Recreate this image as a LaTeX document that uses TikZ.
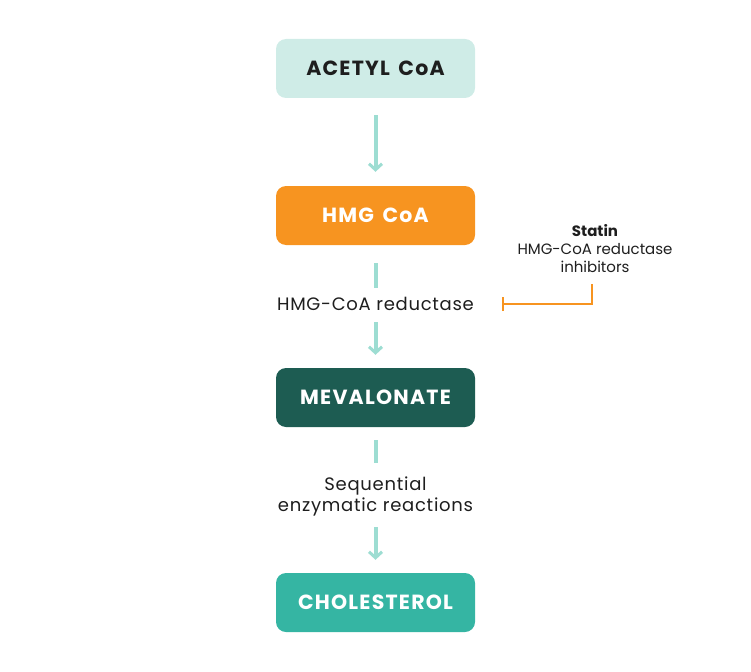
\documentclass[tikz,border=0pt]{standalone}
\usepackage{fontspec}
\setmainfont{Poppins}
\usetikzlibrary{arrows.meta}
\definecolor{acetylfill}{RGB}{207, 236, 231}
\definecolor{hmgorange}{RGB}{247, 148, 32}
\definecolor{mevgreen}{RGB}{29, 92, 82}
\definecolor{cholteal}{RGB}{53, 181, 163}
\definecolor{flowteal}{RGB}{157, 221, 210}
\definecolor{txtdark}{RGB}{30, 30, 30}

\tikzset{
    step box/.style={rounded corners=10pt, minimum width=199pt, minimum height=59pt,
        font=\fontsize{20.5}{24}\selectfont\bfseries\addfontfeature{LetterSpace=6}, inner sep=0pt},
    enzyme/.style={font=\fontsize{18}{21}\selectfont\addfontfeature{LetterSpace=4}, text=txtdark, align=center},
    flow/.style={flowteal, line width=4pt},
    flowarrow/.style={flow, -{Straight Barb[length=6pt, width=13pt, line width=3pt]}},
    inhibit/.style={hmgorange, line width=1.5pt, -{Bar[width=14pt, line width=1.5pt]}}
}

\begin{document}
\begin{tikzpicture}[x=1pt, y=-1pt]
\useasboundingbox (0,0) rectangle (751,671);

% pathway steps
\node[step box, fill=acetylfill, text=txtdark] (acetyl) at (375.5,68.5) {ACETYL\hspace{3pt} CoA};
\node[step box, fill=hmgorange, text=white] (hmg) at (375.5,215.5) {HMG\hspace{3pt} CoA};
\node[step box, fill=mevgreen, text=white] (mev) at (375.5,397.5) {MEVALONATE};
\node[step box, fill=cholteal, text=white] (chol) at (375.5,602.5) {CHOLESTEROL};

% enzymes
\node[enzyme] (red) at (375.5,304) {HMG-CoA reductase};
\node[enzyme] (seq) at (375.5,496) {Sequential\\enzymatic reactions};

% statin
\node[align=center, text=txtdark, font=\fontsize{15}{18}\selectfont] (statin) at (595,249)
    {\textbf{Statin}\\HMG-CoA reductase\\inhibitors};
\coordinate (statinfoot) at (592,284);

% arrows
\draw[flowarrow, shorten <=17pt, shorten >=14pt] (acetyl) -- (hmg);
\draw[flow, shorten <=18pt, shorten >=6pt] (hmg) -- (red);
\draw[flowarrow, shorten <=8pt, shorten >=13pt] (red) -- (mev);
\draw[flow, shorten <=13pt, shorten >=10pt] (mev) -- (seq);
\draw[flowarrow, shorten <=8pt, shorten >=13pt] (seq) -- (chol);

% inhibition
\draw[inhibit, shorten >=25pt] (statinfoot) |- (red.east);
\end{tikzpicture}
\end{document}
